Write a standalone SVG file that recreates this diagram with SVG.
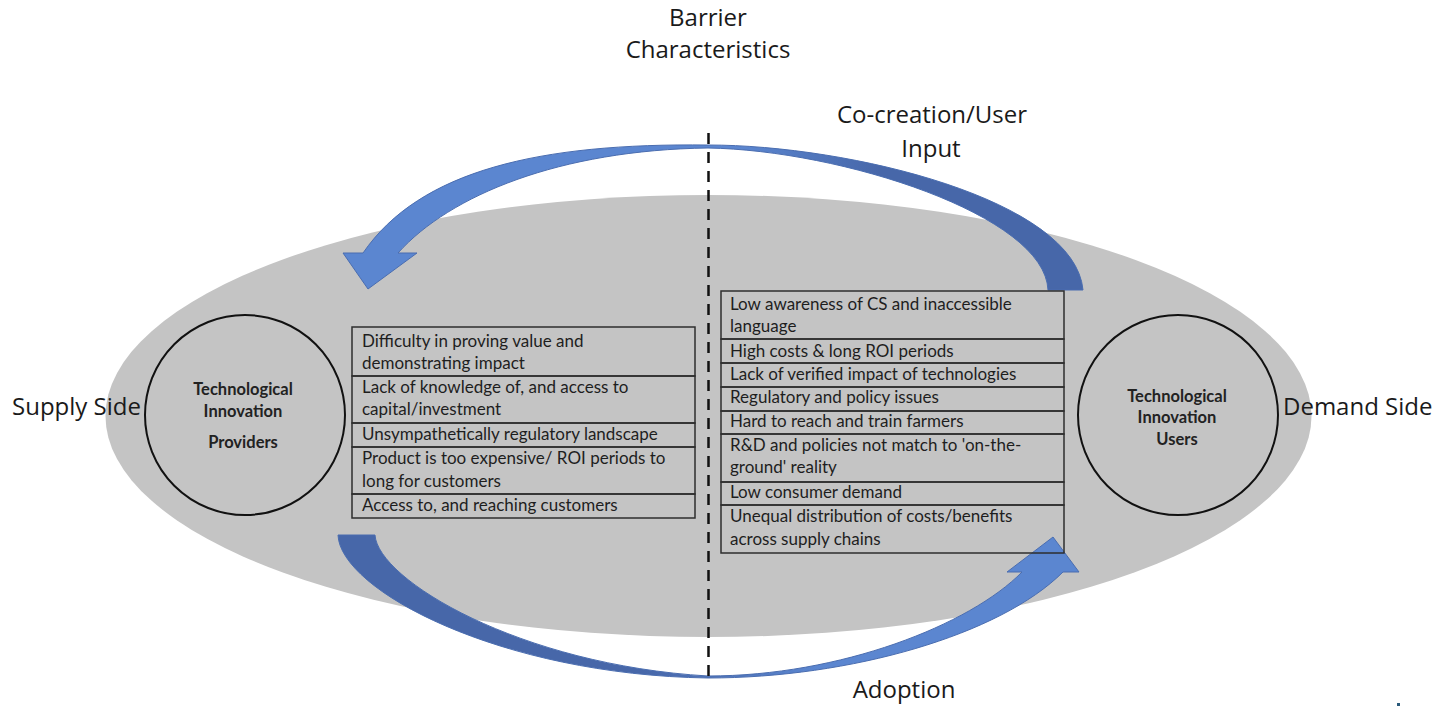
<svg xmlns="http://www.w3.org/2000/svg" width="1437" height="706" viewBox="0 0 1437 706">
<style>
.lbl{font-family:"Open Sans",Lato,sans-serif;font-size:24px;fill:#1a1a1a}
.cell{fill:none;stroke:#2e2e2e;stroke-width:1.5}
.tx{font-family:Lato,"Open Sans",sans-serif;font-size:17px;fill:#1e1e1e}
.ct{font-family:Lato,"Open Sans",sans-serif;font-size:16.5px;font-weight:bold;fill:#222;text-anchor:middle}
.circ{fill:none;stroke:#111;stroke-width:2}
</style>
<defs>
<linearGradient id="gTop" gradientUnits="userSpaceOnUse" x1="740" y1="0" x2="880" y2="0">
<stop offset="0" stop-color="#5b86d0"/><stop offset="1" stop-color="#4767a9"/>
</linearGradient>
<linearGradient id="gBot" gradientUnits="userSpaceOnUse" x1="640" y1="0" x2="820" y2="0">
<stop offset="0" stop-color="#4767a9"/><stop offset="1" stop-color="#5b86d0"/>
</linearGradient>
</defs>
<rect width="1437" height="706" fill="#ffffff"/>
<ellipse id="field" cx="708.5" cy="416" rx="603" ry="221" fill="#c4c4c4"/>

<g id="connectors">
<path id="arrow-cocreation" d="M1083 290 C1075 200 850 145 708 145 C540 143 420 170 363 253 L343 253 L368 289 L417 253 L398 253 C450 195 560 150 708 148 C840 150 1045 215 1048 290 Z" fill="url(#gTop)" stroke="#4a6db0" stroke-width="1"/>
<path id="arrow-adoption" d="M338 535 C340 590 500 675 708 678 C850 678 1000 635 1063 572 L1079 572 L1053 537 L1007 572 L1022 572 C970 625 840 676 708 676 C520 665 378 580 375 535 Z" fill="url(#gBot)" stroke="#4a6db0" stroke-width="1"/>
<line id="divider" x1="708.5" y1="133" x2="708.5" y2="678" stroke="#111" stroke-width="2.5" stroke-dasharray="11 8"/>
</g>

<g id="providers">
<circle class="circ" cx="245" cy="415" r="100"/>
<text class="ct" x="243" y="395">Technological</text>
<text class="ct" x="243" y="417">Innovation</text>
<text class="ct" x="243" y="448">Providers</text>
</g>

<g id="users">
<circle class="circ" cx="1178" cy="415" r="100"/>
<text class="ct" x="1177" y="402">Technological</text>
<text class="ct" x="1177" y="423">Innovation</text>
<text class="ct" x="1177" y="445">Users</text>
</g>

<g id="supply-barriers">
<rect class="cell" x="352" y="327" width="343" height="49"/>
<rect class="cell" x="352" y="376" width="343" height="47"/>
<rect class="cell" x="352" y="423" width="343" height="24"/>
<rect class="cell" x="352" y="447" width="343" height="47"/>
<rect class="cell" x="352" y="494" width="343" height="24"/>
<text class="tx" x="362" y="347">Difficulty in proving value and</text>
<text class="tx" x="362" y="369">demonstrating impact</text>
<text class="tx" x="362" y="393">Lack of knowledge of, and access to</text>
<text class="tx" x="362" y="415">capital/investment</text>
<text class="tx" x="362" y="440">Unsympathetically regulatory landscape</text>
<text class="tx" x="362" y="464">Product is too expensive/ ROI periods to</text>
<text class="tx" x="362" y="487">long for customers</text>
<text class="tx" x="362" y="511">Access to, and reaching customers</text>
</g>

<g id="demand-barriers">
<rect class="cell" x="721" y="291" width="343" height="48"/>
<rect class="cell" x="721" y="339" width="343" height="24"/>
<rect class="cell" x="721" y="363" width="343" height="24"/>
<rect class="cell" x="721" y="387" width="343" height="24"/>
<rect class="cell" x="721" y="411" width="343" height="23"/>
<rect class="cell" x="721" y="434" width="343" height="48"/>
<rect class="cell" x="721" y="482" width="343" height="23"/>
<rect class="cell" x="721" y="505" width="343" height="48"/>
<text class="tx" x="730" y="310">Low awareness of CS and inaccessible</text>
<text class="tx" x="730" y="332">language</text>
<text class="tx" x="730" y="357">High costs &amp; long ROI periods</text>
<text class="tx" x="730" y="380">Lack of verified impact of technologies</text>
<text class="tx" x="730" y="403">Regulatory and policy issues</text>
<text class="tx" x="730" y="427">Hard to reach and train farmers</text>
<text class="tx" x="730" y="451">R&amp;D and policies not match to 'on-the-</text>
<text class="tx" x="730" y="473">ground' reality</text>
<text class="tx" x="730" y="498">Low consumer demand</text>
<text class="tx" x="730" y="522">Unequal distribution of costs/benefits</text>
<text class="tx" x="730" y="545">across supply chains</text>
</g>

<g id="labels">
<text class="lbl" x="708" y="26" text-anchor="middle">Barrier</text>
<text class="lbl" x="708" y="58" text-anchor="middle">Characteristics</text>
<text class="lbl" x="932" y="123" text-anchor="middle">Co-creation/User</text>
<text class="lbl" x="931" y="157" text-anchor="middle">Input</text>
<text class="lbl" x="12" y="415">Supply Side</text>
<text class="lbl" x="1283" y="415">Demand Side</text>
<text class="lbl" x="904" y="698" text-anchor="middle">Adoption</text>
</g>
<rect x="1397" y="703" width="3" height="3" fill="#2a5a7a"/>
</svg>
